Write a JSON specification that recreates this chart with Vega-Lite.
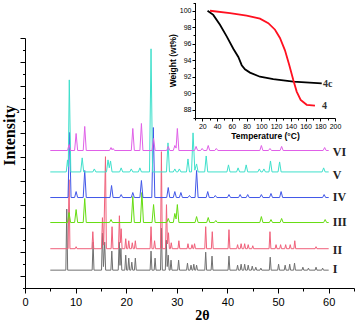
{
"$schema":"https://vega.github.io/schema/vega-lite/v6.json",
"width":329,"height":250,"autosize":"none",
"padding":{"left":25,"top":38,"right":2,"bottom":34},
"background":"white",
"config":{"view":{"stroke":null},"axis":{"domainColor":"#000","tickColor":"#000","labelColor":"#000","titleColor":"#000","grid":false,"domainWidth":1,"tickWidth":1,"tickCount":200,"labelOverlap":false}},
"layer":[
{"data":{"values":[
{"s":"I","x":5,"y":1.5},{"s":"I","x":8.07,"y":1.5},{"s":"I","x":8.25,"y":6.63},{"s":"I","x":8.43,"y":1.5},
{"s":"I","x":13.27,"y":1.5},{"s":"I","x":13.45,"y":3.85},{"s":"I","x":13.63,"y":1.5},
{"s":"I","x":15.12,"y":1.5},{"s":"I","x":15.3,"y":4.61},{"s":"I","x":15.5,"y":1.8},{"s":"I","x":15.75,"y":3.85},{"s":"I","x":15.93,"y":1.5},
{"s":"I","x":16.97,"y":1.5},{"s":"I","x":17.15,"y":3.1},{"s":"I","x":17.33,"y":1.5},
{"s":"I","x":18.42,"y":1.5},{"s":"I","x":18.6,"y":3.85},{"s":"I","x":18.77,"y":1.9},{"s":"I","x":18.95,"y":3.35},{"s":"I","x":19.13,"y":1.5},
{"s":"I","x":19.72,"y":1.5},{"s":"I","x":19.9,"y":2.76},{"s":"I","x":20.08,"y":1.5},
{"s":"I","x":20.32,"y":1.5},{"s":"I","x":20.5,"y":2.51},{"s":"I","x":20.68,"y":1.5},
{"s":"I","x":20.92,"y":1.5},{"s":"I","x":21.1,"y":2.17},{"s":"I","x":21.28,"y":1.5},
{"s":"I","x":21.62,"y":1.5},{"s":"I","x":21.8,"y":2.51},{"s":"I","x":21.98,"y":1.5},
{"s":"I","x":24.72,"y":1.5},{"s":"I","x":24.9,"y":3.1},{"s":"I","x":25.08,"y":1.5},
{"s":"I","x":25.52,"y":1.5},{"s":"I","x":25.7,"y":2.51},{"s":"I","x":25.88,"y":1.5},
{"s":"I","x":26.77,"y":1.5},{"s":"I","x":26.95,"y":5.03},{"s":"I","x":27.13,"y":1.5},
{"s":"I","x":27.72,"y":1.5},{"s":"I","x":27.9,"y":4.02},{"s":"I","x":28.1,"y":1.8},{"s":"I","x":28.3,"y":2.76},{"s":"I","x":28.48,"y":1.5},
{"s":"I","x":28.67,"y":1.5},{"s":"I","x":28.85,"y":2.34},{"s":"I","x":29.03,"y":1.5},
{"s":"I","x":30.17,"y":1.5},{"s":"I","x":30.35,"y":2.34},{"s":"I","x":30.53,"y":1.5},
{"s":"I","x":31.92,"y":1.5},{"s":"I","x":32.1,"y":2.09},{"s":"I","x":32.28,"y":1.5},
{"s":"I","x":32.62,"y":1.5},{"s":"I","x":32.8,"y":1.92},{"s":"I","x":32.98,"y":1.5},
{"s":"I","x":33.17,"y":1.5},{"s":"I","x":33.35,"y":2.0},{"s":"I","x":33.53,"y":1.5},
{"s":"I","x":33.72,"y":1.5},{"s":"I","x":33.9,"y":1.92},{"s":"I","x":34.08,"y":1.5},
{"s":"I","x":35.52,"y":1.5},{"s":"I","x":35.7,"y":3.01},{"s":"I","x":35.88,"y":1.5},
{"s":"I","x":36.77,"y":1.5},{"s":"I","x":36.95,"y":2.68},{"s":"I","x":37.13,"y":1.5},
{"s":"I","x":40.12,"y":1.5},{"s":"I","x":40.3,"y":2.68},{"s":"I","x":40.48,"y":1.5},
{"s":"I","x":41.82,"y":1.5},{"s":"I","x":42.0,"y":1.92},{"s":"I","x":42.18,"y":1.5},
{"s":"I","x":42.52,"y":1.5},{"s":"I","x":42.7,"y":2.0},{"s":"I","x":42.88,"y":1.5},
{"s":"I","x":43.22,"y":1.5},{"s":"I","x":43.4,"y":2.0},{"s":"I","x":43.58,"y":1.5},
{"s":"I","x":43.92,"y":1.5},{"s":"I","x":44.1,"y":1.92},{"s":"I","x":44.28,"y":1.5},
{"s":"I","x":44.72,"y":1.5},{"s":"I","x":44.9,"y":1.84},{"s":"I","x":45.08,"y":1.5},
{"s":"I","x":45.42,"y":1.5},{"s":"I","x":45.6,"y":1.75},{"s":"I","x":45.78,"y":1.5},
{"s":"I","x":46.42,"y":1.5},{"s":"I","x":46.6,"y":1.67},{"s":"I","x":46.78,"y":1.5},
{"s":"I","x":48.27,"y":1.5},{"s":"I","x":48.45,"y":2.59},{"s":"I","x":48.63,"y":1.5},
{"s":"I","x":49.92,"y":1.5},{"s":"I","x":50.1,"y":2.0},{"s":"I","x":50.28,"y":1.5},
{"s":"I","x":51.22,"y":1.5},{"s":"I","x":51.4,"y":1.92},{"s":"I","x":51.58,"y":1.5},
{"s":"I","x":52.12,"y":1.5},{"s":"I","x":52.3,"y":2.0},{"s":"I","x":52.48,"y":1.5},
{"s":"I","x":53.07,"y":1.5},{"s":"I","x":53.25,"y":2.09},{"s":"I","x":53.43,"y":1.5},
{"s":"I","x":54.72,"y":1.5},{"s":"I","x":54.9,"y":1.75},{"s":"I","x":55.08,"y":1.5},
{"s":"I","x":55.82,"y":1.5},{"s":"I","x":56.0,"y":1.67},{"s":"I","x":56.18,"y":1.5},
{"s":"I","x":57.32,"y":1.5},{"s":"I","x":57.5,"y":1.75},{"s":"I","x":57.68,"y":1.5},
{"s":"I","x":58.62,"y":1.5},{"s":"I","x":58.8,"y":1.67},{"s":"I","x":58.98,"y":1.5},
{"s":"I","x":60,"y":1.5},

{"s":"II","x":5,"y":3.3},{"s":"II","x":8.52,"y":3.3},{"s":"II","x":8.7,"y":9.1},{"s":"II","x":8.88,"y":3.3},
{"s":"II","x":9.92,"y":3.3},{"s":"II","x":10.1,"y":3.47},{"s":"II","x":10.28,"y":3.3},
{"s":"II","x":13.22,"y":3.3},{"s":"II","x":13.4,"y":4.73},{"s":"II","x":13.58,"y":3.3},
{"s":"II","x":15.12,"y":3.3},{"s":"II","x":15.3,"y":5.91},{"s":"II","x":15.55,"y":3.6},{"s":"II","x":15.9,"y":11.03},{"s":"II","x":16.08,"y":3.3},
{"s":"II","x":17.02,"y":3.3},{"s":"II","x":17.2,"y":5.15},{"s":"II","x":17.38,"y":3.3},
{"s":"II","x":18.47,"y":3.3},{"s":"II","x":18.65,"y":6.07},{"s":"II","x":18.82,"y":3.8},{"s":"II","x":19.0,"y":4.98},{"s":"II","x":19.18,"y":3.3},
{"s":"II","x":19.72,"y":3.3},{"s":"II","x":19.9,"y":4.14},{"s":"II","x":20.08,"y":3.3},
{"s":"II","x":20.32,"y":3.3},{"s":"II","x":20.5,"y":3.97},{"s":"II","x":20.68,"y":3.3},
{"s":"II","x":21.02,"y":3.3},{"s":"II","x":21.2,"y":3.8},{"s":"II","x":21.38,"y":3.3},
{"s":"II","x":21.62,"y":3.3},{"s":"II","x":21.8,"y":3.97},{"s":"II","x":21.98,"y":3.3},
{"s":"II","x":24.72,"y":3.3},{"s":"II","x":24.9,"y":5.15},{"s":"II","x":25.08,"y":3.3},
{"s":"II","x":25.42,"y":3.3},{"s":"II","x":25.6,"y":3.97},{"s":"II","x":25.78,"y":3.3},
{"s":"II","x":26.77,"y":3.3},{"s":"II","x":26.95,"y":11.45},{"s":"II","x":27.13,"y":3.3},
{"s":"II","x":27.77,"y":3.3},{"s":"II","x":27.95,"y":7.0},{"s":"II","x":28.15,"y":3.7},{"s":"II","x":28.35,"y":4.64},{"s":"II","x":28.53,"y":3.3},
{"s":"II","x":28.72,"y":3.3},{"s":"II","x":28.9,"y":3.8},{"s":"II","x":29.08,"y":3.3},
{"s":"II","x":30.22,"y":3.3},{"s":"II","x":30.4,"y":3.97},{"s":"II","x":30.58,"y":3.3},
{"s":"II","x":32.02,"y":3.3},{"s":"II","x":32.2,"y":3.72},{"s":"II","x":32.38,"y":3.3},
{"s":"II","x":32.82,"y":3.3},{"s":"II","x":33.0,"y":3.64},{"s":"II","x":33.18,"y":3.3},
{"s":"II","x":33.32,"y":3.3},{"s":"II","x":33.5,"y":3.72},{"s":"II","x":33.68,"y":3.3},
{"s":"II","x":35.52,"y":3.3},{"s":"II","x":35.7,"y":5.15},{"s":"II","x":35.88,"y":3.3},
{"s":"II","x":36.82,"y":3.3},{"s":"II","x":37.0,"y":4.73},{"s":"II","x":37.18,"y":3.3},
{"s":"II","x":40.12,"y":3.3},{"s":"II","x":40.3,"y":4.9},{"s":"II","x":40.48,"y":3.3},
{"s":"II","x":41.82,"y":3.3},{"s":"II","x":42.0,"y":3.64},{"s":"II","x":42.18,"y":3.3},
{"s":"II","x":42.52,"y":3.3},{"s":"II","x":42.7,"y":3.72},{"s":"II","x":42.88,"y":3.3},
{"s":"II","x":43.22,"y":3.3},{"s":"II","x":43.4,"y":3.72},{"s":"II","x":43.58,"y":3.3},
{"s":"II","x":43.92,"y":3.3},{"s":"II","x":44.1,"y":3.64},{"s":"II","x":44.28,"y":3.3},
{"s":"II","x":44.82,"y":3.3},{"s":"II","x":45.0,"y":3.55},{"s":"II","x":45.18,"y":3.3},
{"s":"II","x":48.22,"y":3.3},{"s":"II","x":48.4,"y":4.73},{"s":"II","x":48.58,"y":3.3},
{"s":"II","x":49.42,"y":3.3},{"s":"II","x":49.6,"y":3.64},{"s":"II","x":49.78,"y":3.3},
{"s":"II","x":50.32,"y":3.3},{"s":"II","x":50.5,"y":3.64},{"s":"II","x":50.68,"y":3.3},
{"s":"II","x":51.32,"y":3.3},{"s":"II","x":51.5,"y":3.64},{"s":"II","x":51.68,"y":3.3},
{"s":"II","x":52.22,"y":3.3},{"s":"II","x":52.4,"y":3.64},{"s":"II","x":52.58,"y":3.3},
{"s":"II","x":53.12,"y":3.3},{"s":"II","x":53.3,"y":3.97},{"s":"II","x":53.48,"y":3.3},
{"s":"II","x":57.32,"y":3.3},{"s":"II","x":57.5,"y":3.47},{"s":"II","x":57.68,"y":3.3},
{"s":"II","x":60,"y":3.3},

{"s":"III","x":5,"y":5.5},{"s":"III","x":8.4,"y":5.5},{"s":"III","x":8.7,"y":6.34},{"s":"III","x":9.0,"y":5.5},
{"s":"III","x":9.8,"y":5.5},{"s":"III","x":10.1,"y":6.59},{"s":"III","x":10.4,"y":5.5},
{"s":"III","x":11.5,"y":5.5},{"s":"III","x":11.8,"y":7.52},{"s":"III","x":12.1,"y":5.5},
{"s":"III","x":16.7,"y":5.5},{"s":"III","x":17.0,"y":5.75},{"s":"III","x":17.3,"y":5.5},
{"s":"III","x":21.0,"y":5.5},{"s":"III","x":21.3,"y":7.68},{"s":"III","x":21.6,"y":5.5},
{"s":"III","x":22.8,"y":5.5},{"s":"III","x":23.1,"y":8.02},{"s":"III","x":23.4,"y":5.5},
{"s":"III","x":25.1,"y":5.5},{"s":"III","x":25.4,"y":7.01},{"s":"III","x":25.7,"y":5.5},
{"s":"III","x":28.0,"y":5.5},{"s":"III","x":28.3,"y":5.84},{"s":"III","x":28.6,"y":5.5},
{"s":"III","x":29.3,"y":5.5},{"s":"III","x":29.6,"y":6.26},{"s":"III","x":29.85,"y":5.8},{"s":"III","x":30.1,"y":7.01},{"s":"III","x":30.4,"y":5.5},
{"s":"III","x":33.6,"y":5.5},{"s":"III","x":33.9,"y":6.0},{"s":"III","x":34.2,"y":5.5},
{"s":"III","x":35.9,"y":5.5},{"s":"III","x":36.2,"y":5.92},{"s":"III","x":36.5,"y":5.5},
{"s":"III","x":37.4,"y":5.5},{"s":"III","x":37.7,"y":5.67},{"s":"III","x":38.0,"y":5.5},
{"s":"III","x":46.4,"y":5.5},{"s":"III","x":46.7,"y":6.0},{"s":"III","x":47.0,"y":5.5},
{"s":"III","x":48.3,"y":5.5},{"s":"III","x":48.6,"y":5.75},{"s":"III","x":48.9,"y":5.5},
{"s":"III","x":50.4,"y":5.5},{"s":"III","x":50.7,"y":5.84},{"s":"III","x":51.0,"y":5.5},
{"s":"III","x":59.0,"y":5.5},{"s":"III","x":59.3,"y":5.75},{"s":"III","x":59.6,"y":5.5},
{"s":"III","x":60,"y":5.5},

{"s":"IV","x":5,"y":7.6},{"s":"IV","x":8.5,"y":7.6},{"s":"IV","x":8.8,"y":13.06},{"s":"IV","x":9.1,"y":7.6},
{"s":"IV","x":9.8,"y":7.6},{"s":"IV","x":10.1,"y":8.1},{"s":"IV","x":10.4,"y":7.6},
{"s":"IV","x":11.5,"y":7.6},{"s":"IV","x":11.8,"y":9.87},{"s":"IV","x":12.1,"y":7.6},
{"s":"IV","x":16.8,"y":7.6},{"s":"IV","x":17.1,"y":8.61},{"s":"IV","x":17.4,"y":7.6},
{"s":"IV","x":18.7,"y":7.6},{"s":"IV","x":19.0,"y":7.85},{"s":"IV","x":19.3,"y":7.6},
{"s":"IV","x":21.0,"y":7.6},{"s":"IV","x":21.3,"y":8.02},{"s":"IV","x":21.6,"y":7.6},
{"s":"IV","x":22.7,"y":7.6},{"s":"IV","x":23.0,"y":9.03},{"s":"IV","x":23.3,"y":7.6},
{"s":"IV","x":25.05,"y":7.6},{"s":"IV","x":25.35,"y":13.48},{"s":"IV","x":25.65,"y":7.6},
{"s":"IV","x":28.0,"y":7.6},{"s":"IV","x":28.3,"y":8.44},{"s":"IV","x":28.6,"y":7.6},
{"s":"IV","x":29.3,"y":7.6},{"s":"IV","x":29.6,"y":8.1},{"s":"IV","x":29.9,"y":7.6},
{"s":"IV","x":30.5,"y":7.6},{"s":"IV","x":30.8,"y":8.02},{"s":"IV","x":31.1,"y":7.6},
{"s":"IV","x":32.2,"y":7.6},{"s":"IV","x":32.5,"y":7.77},{"s":"IV","x":32.8,"y":7.6},
{"s":"IV","x":33.6,"y":7.6},{"s":"IV","x":33.9,"y":9.87},{"s":"IV","x":34.2,"y":7.6},
{"s":"IV","x":35.8,"y":7.6},{"s":"IV","x":36.1,"y":8.1},{"s":"IV","x":36.4,"y":7.6},
{"s":"IV","x":37.3,"y":7.6},{"s":"IV","x":37.6,"y":7.77},{"s":"IV","x":37.9,"y":7.6},
{"s":"IV","x":40.0,"y":7.6},{"s":"IV","x":40.3,"y":7.85},{"s":"IV","x":40.6,"y":7.6},
{"s":"IV","x":42.2,"y":7.6},{"s":"IV","x":42.5,"y":7.85},{"s":"IV","x":42.8,"y":7.6},
{"s":"IV","x":43.7,"y":7.6},{"s":"IV","x":44.0,"y":7.85},{"s":"IV","x":44.3,"y":7.6},
{"s":"IV","x":46.4,"y":7.6},{"s":"IV","x":46.7,"y":7.85},{"s":"IV","x":47.0,"y":7.6},
{"s":"IV","x":48.3,"y":7.6},{"s":"IV","x":48.6,"y":7.94},{"s":"IV","x":48.9,"y":7.6},
{"s":"IV","x":50.3,"y":7.6},{"s":"IV","x":50.6,"y":8.1},{"s":"IV","x":50.9,"y":7.6},
{"s":"IV","x":58.8,"y":7.6},{"s":"IV","x":59.1,"y":7.85},{"s":"IV","x":59.4,"y":7.6},
{"s":"IV","x":60,"y":7.6},

{"s":"V","x":5,"y":9.75},{"s":"V","x":8.15,"y":9.75},{"s":"V","x":8.4,"y":10.76},{"s":"V","x":8.55,"y":10.2},{"s":"V","x":8.75,"y":17.48},{"s":"V","x":9.05,"y":9.75},
{"s":"V","x":11.0,"y":9.75},{"s":"V","x":11.3,"y":10.93},{"s":"V","x":11.6,"y":9.75},
{"s":"V","x":13.4,"y":9.75},{"s":"V","x":13.7,"y":10.0},{"s":"V","x":14.0,"y":9.75},
{"s":"V","x":16.1,"y":9.75},{"s":"V","x":16.4,"y":10.76},{"s":"V","x":16.65,"y":10.1},{"s":"V","x":16.9,"y":10.67},{"s":"V","x":17.2,"y":9.75},
{"s":"V","x":18.7,"y":9.75},{"s":"V","x":19.0,"y":10.09},{"s":"V","x":19.3,"y":9.75},
{"s":"V","x":20.7,"y":9.75},{"s":"V","x":21.0,"y":10.0},{"s":"V","x":21.3,"y":9.75},
{"s":"V","x":22.4,"y":9.75},{"s":"V","x":22.7,"y":10.09},{"s":"V","x":23.0,"y":9.75},
{"s":"V","x":24.6,"y":9.75},{"s":"V","x":24.9,"y":20.09},{"s":"V","x":25.2,"y":9.75},
{"s":"V","x":27.95,"y":9.75},{"s":"V","x":28.25,"y":12.19},{"s":"V","x":28.55,"y":9.75},
{"s":"V","x":29.3,"y":9.75},{"s":"V","x":29.6,"y":10.0},{"s":"V","x":29.9,"y":9.75},
{"s":"V","x":30.2,"y":9.75},{"s":"V","x":30.5,"y":10.0},{"s":"V","x":30.8,"y":9.75},
{"s":"V","x":31.9,"y":9.75},{"s":"V","x":32.2,"y":10.84},{"s":"V","x":32.5,"y":9.75},
{"s":"V","x":32.9,"y":9.75},{"s":"V","x":33.2,"y":13.03},{"s":"V","x":33.55,"y":9.9},{"s":"V","x":33.9,"y":10.42},{"s":"V","x":34.2,"y":9.75},
{"s":"V","x":35.5,"y":9.75},{"s":"V","x":35.8,"y":11.09},{"s":"V","x":36.1,"y":9.75},
{"s":"V","x":39.9,"y":9.75},{"s":"V","x":40.2,"y":10.34},{"s":"V","x":40.5,"y":9.75},
{"s":"V","x":41.8,"y":9.75},{"s":"V","x":42.1,"y":10.09},{"s":"V","x":42.4,"y":9.75},
{"s":"V","x":43.4,"y":9.75},{"s":"V","x":43.7,"y":10.34},{"s":"V","x":44.0,"y":9.75},
{"s":"V","x":46.0,"y":9.75},{"s":"V","x":46.3,"y":10.0},{"s":"V","x":46.6,"y":9.75},
{"s":"V","x":46.9,"y":9.75},{"s":"V","x":47.2,"y":10.0},{"s":"V","x":47.5,"y":9.75},
{"s":"V","x":48.2,"y":9.75},{"s":"V","x":48.5,"y":10.67},{"s":"V","x":48.8,"y":9.75},
{"s":"V","x":50.0,"y":9.75},{"s":"V","x":50.3,"y":10.59},{"s":"V","x":50.6,"y":9.75},
{"s":"V","x":58.7,"y":9.75},{"s":"V","x":59.0,"y":10.09},{"s":"V","x":59.3,"y":9.75},
{"s":"V","x":60,"y":9.75},

{"s":"VI","x":5,"y":11.55},{"s":"VI","x":8.4,"y":11.55},{"s":"VI","x":8.7,"y":12.05},{"s":"VI","x":9.0,"y":11.55},
{"s":"VI","x":9.8,"y":11.55},{"s":"VI","x":10.1,"y":12.98},{"s":"VI","x":10.4,"y":11.55},
{"s":"VI","x":11.5,"y":11.55},{"s":"VI","x":11.8,"y":13.57},{"s":"VI","x":12.1,"y":11.55},
{"s":"VI","x":16.7,"y":11.55},{"s":"VI","x":17.0,"y":11.8},{"s":"VI","x":17.2,"y":11.6},{"s":"VI","x":17.4,"y":11.72},{"s":"VI","x":17.7,"y":11.55},
{"s":"VI","x":21.0,"y":11.55},{"s":"VI","x":21.3,"y":13.4},{"s":"VI","x":21.6,"y":11.55},
{"s":"VI","x":22.7,"y":11.55},{"s":"VI","x":23.0,"y":13.82},{"s":"VI","x":23.3,"y":11.55},
{"s":"VI","x":25.1,"y":11.55},{"s":"VI","x":25.4,"y":12.56},{"s":"VI","x":25.7,"y":11.55},
{"s":"VI","x":28.0,"y":11.55},{"s":"VI","x":28.3,"y":11.89},{"s":"VI","x":28.6,"y":11.55},
{"s":"VI","x":29.3,"y":11.55},{"s":"VI","x":29.6,"y":11.97},{"s":"VI","x":29.85,"y":11.75},{"s":"VI","x":30.1,"y":13.4},{"s":"VI","x":30.4,"y":11.55},
{"s":"VI","x":33.5,"y":11.55},{"s":"VI","x":33.8,"y":11.89},{"s":"VI","x":34.1,"y":11.55},
{"s":"VI","x":34.7,"y":11.55},{"s":"VI","x":35.0,"y":11.72},{"s":"VI","x":35.3,"y":11.55},
{"s":"VI","x":35.9,"y":11.55},{"s":"VI","x":36.2,"y":11.97},{"s":"VI","x":36.5,"y":11.55},
{"s":"VI","x":37.5,"y":11.55},{"s":"VI","x":37.8,"y":11.72},{"s":"VI","x":38.1,"y":11.55},
{"s":"VI","x":46.4,"y":11.55},{"s":"VI","x":46.7,"y":11.97},{"s":"VI","x":47.0,"y":11.55},
{"s":"VI","x":48.1,"y":11.55},{"s":"VI","x":48.4,"y":11.72},{"s":"VI","x":48.7,"y":11.55},
{"s":"VI","x":50.4,"y":11.55},{"s":"VI","x":50.7,"y":11.89},{"s":"VI","x":51.0,"y":11.55},
{"s":"VI","x":58.9,"y":11.55},{"s":"VI","x":59.2,"y":11.8},{"s":"VI","x":59.5,"y":11.55},
{"s":"VI","x":60,"y":11.55}
]},
"layer":[
{"mark":{"type":"line","strokeWidth":1},
"encoding":{
"x":{"field":"x","type":"quantitative","scale":{"domain":[0,65],"nice":false,"zero":false},
"axis":{"values":[0,5,10,15,20,25,30,35,40,45,50,55,60,65],"tickCount":200,"format":"d","title":"2θ","labelExpr":"datum.value % 10 === 0 ? datum.label : ''","tickSize":{"condition":{"test":"datum.value % 10 === 0","value":5},"value":3},"labelFont":"Liberation Sans","labelFontSize":11,"labelPadding":3,"labelFlush":false,"titleFont":"Liberation Serif","titleFontSize":14,"titleFontWeight":"bold","titleX":177,"titleY":27,"titleBaseline":"middle"}},
"y":{"field":"y","type":"quantitative","scale":{"domain":[0,21],"nice":false,"zero":false},
"axis":{"values":[0,1,2,3,4,5,6,7,8,9,10,11,12,13,14,15,16,17,18,19,20,21],"tickCount":200,"labels":false,"tickSize":{"condition":{"test":"datum.value % 2 === 1","value":5},"value":2.5},"title":"Intensity","titleFont":"Liberation Serif","titleFontSize":16,"titleFontWeight":"bold","titleX":-16,"titleY":97,"titleAngle":-90,"titleBaseline":"middle","titleAlign":"center"}},
"color":{"field":"s","type":"nominal","scale":{"domain":["I","II","III","IV","V","VI"],"range":["#707070","#f0607a","#66dd11","#4157e8","#3fe0cc","#e060e8"]},"legend":null}
}},
{"data":{"values":[{"t":"I","x":60.8,"y":1.6},{"t":"II","x":60.8,"y":3.2},{"t":"III","x":60.8,"y":5.55},{"t":"IV","x":60.8,"y":7.65},{"t":"V","x":60.8,"y":9.5},{"t":"VI","x":60.8,"y":11.45}]},
"mark":{"type":"text","align":"left","baseline":"middle","font":"Liberation Serif","fontWeight":"bold","fontSize":12,"color":"#222222"},
"encoding":{"x":{"field":"x","type":"quantitative"},"y":{"field":"y","type":"quantitative"},"text":{"field":"t"}}}
]},
{"data":{"values":[
{"c":"4c","T":27,"W":100},{"c":"4c","T":34.8,"W":99.5},{"c":"4c","T":43.9,"W":98.3},{"c":"4c","T":53,"W":96.9},{"c":"4c","T":62,"W":95.4},{"c":"4c","T":68.8,"W":94.4},{"c":"4c","T":73.4,"W":93.4},{"c":"4c","T":77.8,"W":92.9},{"c":"4c","T":84.6,"W":92.5},{"c":"4c","T":98.2,"W":92.0},{"c":"4c","T":116.2,"W":91.7},{"c":"4c","T":143.4,"W":91.4},{"c":"4c","T":182,"W":91.2},
{"c":"4","T":30.4,"W":100},{"c":"4","T":57.5,"W":99.7},{"c":"4","T":80.1,"W":99.4},{"c":"4","T":98.2,"W":99.05},{"c":"4","T":109.5,"W":98.5},{"c":"4","T":118.6,"W":97.7},{"c":"4","T":125.3,"W":96.7},{"c":"4","T":132.1,"W":95.2},{"c":"4","T":138,"W":93.4},{"c":"4","T":143.4,"W":91.6},{"c":"4","T":148,"W":90.2},{"c":"4","T":153.4,"W":89.2},{"c":"4","T":161.6,"W":88.6},{"c":"4","T":172.8,"W":88.5}
]},
"layer":[
{"mark":{"type":"line","strokeWidth":1.8},
"encoding":{
"x":{"field":"T","type":"quantitative","scale":{"domain":[10,200],"range":[170,310],"nice":false,"zero":false},
"axis":{"orient":"bottom","offset":-170,"values":[10,20,30,40,50,60,70,80,90,100,110,120,130,140,150,160,170,180,190,200],"tickCount":200,"format":"d","labelExpr":"datum.value % 20 === 0 ? datum.label : ''","tickSize":{"condition":{"test":"datum.value % 20 === 0","value":3},"value":2},"labelFont":"Liberation Sans","labelFontSize":7,"labelPadding":1,"labelFlush":false,"title":"Temperature (°C)","titleFont":"Liberation Sans","titleFontSize":8.5,"titleFontWeight":"bold","titlePadding":2}},
"y":{"field":"W","type":"quantitative","scale":{"domain":[87,101],"range":[80,-35.5],"nice":false,"zero":false},
"axis":{"orient":"left","offset":-170,"values":[87,88,89,90,91,92,93,94,95,96,97,98,99,100,101],"tickCount":200,"format":"d","labelExpr":"datum.value % 2 === 0 ? datum.label : ''","tickSize":{"condition":{"test":"datum.value % 2 === 0","value":3},"value":2},"labelFont":"Liberation Sans","labelFontSize":7,"labelPadding":1,"labelFlush":false,"title":"Weight (wt%)","titleFont":"Liberation Sans","titleFontSize":8.5,"titleFontWeight":"bold","titlePadding":2}},
"color":{"field":"c","type":"nominal","scale":{"domain":["4c","4"],"range":["#000000","#ff1020"]},"legend":null}
}},
{"data":{"values":[{"t":"4c","T":183.7,"W":91.1},{"t":"4","T":182.3,"W":88.45}]},
"mark":{"type":"text","align":"left","baseline":"middle","font":"Liberation Serif","fontWeight":"bold","fontSize":10,"color":"#333333"},
"encoding":{"x":{"field":"T","type":"quantitative"},"y":{"field":"W","type":"quantitative"},"text":{"field":"t"}}}
]}
],
"resolve":{"scale":{"x":"independent","y":"independent","color":"independent"},"axis":{"x":"independent","y":"independent"}}
}
